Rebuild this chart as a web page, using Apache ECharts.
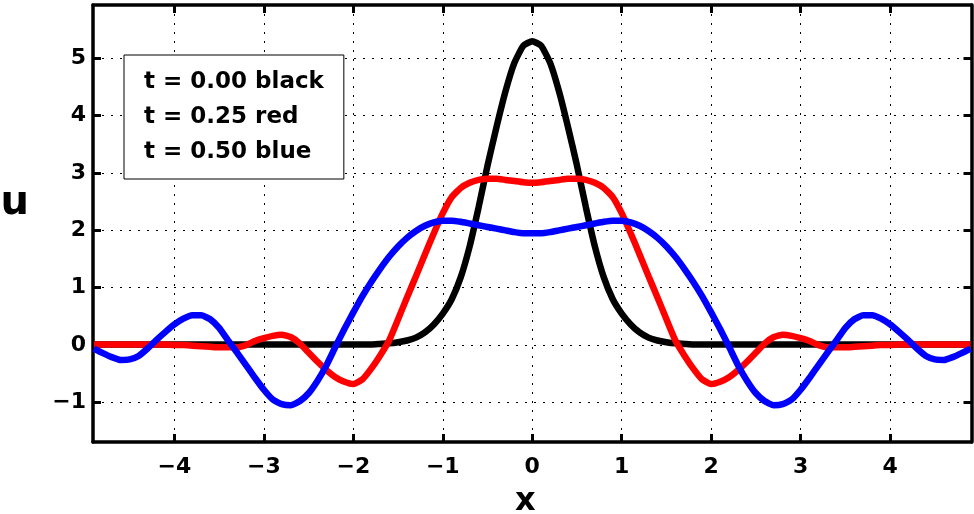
<!DOCTYPE html>
<html lang="en">
<head>
    <meta charset="utf-8" />
    <title>u(x,t)</title>
    <script type="text/javascript" src="https://cdn.jsdelivr.net/npm/echarts@6/dist/echarts.min.js"></script>
</head>
<body style="margin:0;background-color:#fff">
    <div id="container" style="width:974px;height:514px;"></div>
</body>
</html>
<script type="text/javascript">
    var xs = [
        -4.9, -4.8, -4.7, -4.6, -4.5, -4.4, -4.3, -4.2, -4.1, -4.0,
        -3.9, -3.8, -3.7, -3.6, -3.5, -3.4, -3.3, -3.2, -3.1, -3.0,
        -2.9, -2.8, -2.7, -2.6, -2.5, -2.4, -2.3, -2.2, -2.1, -2.0,
        -1.9, -1.8, -1.7, -1.6, -1.5, -1.4, -1.3, -1.2, -1.1, -1.0,
        -0.9, -0.8, -0.7, -0.6, -0.5, -0.4, -0.3, -0.2, -0.1, 0.0,
        0.1, 0.2, 0.3, 0.4, 0.5, 0.6, 0.7, 0.8, 0.9, 1.0,
        1.1, 1.2, 1.3, 1.4, 1.5, 1.6, 1.7, 1.8, 1.9, 2.0,
        2.1, 2.2, 2.3, 2.4, 2.5, 2.6, 2.7, 2.8, 2.9, 3.0,
        3.1, 3.2, 3.3, 3.4, 3.5, 3.6, 3.7, 3.8, 3.9, 4.0,
        4.1, 4.2, 4.3, 4.4, 4.5, 4.6, 4.7, 4.8, 4.9
    ];

    // t = 0.00
    var uBlack = [
        0.01, 0.01, 0.01, 0.01, 0.01, 0.01, 0.01, 0.01, 0.01, 0.01,
        0.01, 0.01, 0.01, 0.01, 0.01, 0.01, 0.01, 0.01, 0.01, 0.01,
        0.01, 0.01, 0.01, 0.01, 0.01, 0.01, 0.01, 0.01, 0.01, 0.01,
        0.01, 0.01, 0.02, 0.03, 0.05, 0.08, 0.13, 0.22, 0.36, 0.55,
        0.8, 1.18, 1.72, 2.4, 3.13, 3.8, 4.42, 4.92, 5.22, 5.3,
        5.22, 4.92, 4.42, 3.8, 3.13, 2.4, 1.72, 1.18, 0.8, 0.55,
        0.36, 0.22, 0.13, 0.08, 0.05, 0.03, 0.02, 0.01, 0.01, 0.01,
        0.01, 0.01, 0.01, 0.01, 0.01, 0.01, 0.01, 0.01, 0.01, 0.01,
        0.01, 0.01, 0.01, 0.01, 0.01, 0.01, 0.01, 0.01, 0.01, 0.01,
        0.01, 0.01, 0.01, 0.01, 0.01, 0.01, 0.01, 0.01, 0.01
    ];

    // t = 0.25
    var uRed = [
        0.01, 0.01, 0.01, 0.01, 0.01, 0.01, 0.01, 0.01, 0.01, 0.0,
        0.0, -0.01, -0.02, -0.03, -0.04, -0.04, -0.04, 0.0, 0.07, 0.12,
        0.16, 0.18, 0.14, 0.03, -0.13, -0.29, -0.44, -0.56, -0.64, -0.68,
        -0.6, -0.41, -0.18, 0.08, 0.45, 0.83, 1.2, 1.58, 1.95, 2.3,
        2.58, 2.74, 2.83, 2.88, 2.9, 2.9, 2.88, 2.86, 2.84, 2.83,
        2.84, 2.86, 2.88, 2.9, 2.9, 2.88, 2.83, 2.74, 2.58, 2.3,
        1.95, 1.58, 1.2, 0.83, 0.45, 0.08, -0.18, -0.41, -0.6, -0.68,
        -0.64, -0.56, -0.44, -0.29, -0.13, 0.03, 0.14, 0.18, 0.16, 0.12,
        0.07, 0.0, -0.04, -0.04, -0.04, -0.03, -0.02, -0.01, 0.0, 0.0,
        0.01, 0.01, 0.01, 0.01, 0.01, 0.01, 0.01, 0.01, 0.01
    ];

    // t = 0.50
    var uBlue = [
        -0.06, -0.14, -0.21, -0.26, -0.25, -0.19, -0.06, 0.09, 0.23, 0.36,
        0.46, 0.52, 0.52, 0.45, 0.3, 0.08, -0.13, -0.35, -0.57, -0.78,
        -0.95, -1.03, -1.05, -0.98, -0.84, -0.62, -0.35, -0.03, 0.28, 0.57,
        0.85, 1.1, 1.33, 1.54, 1.72, 1.87, 1.99, 2.08, 2.14, 2.17,
        2.17, 2.15, 2.12, 2.09, 2.06, 2.03, 2.0, 1.97, 1.95, 1.95,
        1.95, 1.97, 2.0, 2.03, 2.06, 2.09, 2.12, 2.15, 2.17, 2.17,
        2.14, 2.08, 1.99, 1.87, 1.72, 1.54, 1.33, 1.1, 0.85, 0.57,
        0.28, -0.03, -0.35, -0.62, -0.84, -0.98, -1.05, -1.03, -0.95, -0.78,
        -0.57, -0.35, -0.13, 0.08, 0.3, 0.45, 0.52, 0.52, 0.46, 0.36,
        0.23, 0.09, -0.06, -0.19, -0.25, -0.26, -0.21, -0.14, -0.06
    ];

    var seriesNames = ['t = 0.00 black', 't = 0.25 red', 't = 0.50 blue'];
    var xTicks = [-4, -3, -2, -1, 0, 1, 2, 3, 4];
    var yTicks = [-1, 0, 1, 2, 3, 4, 5];

    var dom = document.getElementById("container");
    var myChart = echarts.init(dom);

    var pairs = function (ys) {
        var res = [];
        for (var i = 0; i < xs.length; i++) {
            res.push([xs[i], ys[i]]);
        }
        return res;
    };

    var minus = function (v) {
        return String(v).replace('-', '\u2212');
    };

    var font = 'DejaVu Sans';
    var boxLine = { show: true, onZero: false, lineStyle: { color: '#000', width: 3.5 } };
    var dotted = { show: true, lineStyle: { color: '#000', width: 1, type: [2, 7] } };

    var mkLine = function (name, ys, color) {
        return {
            name: name,
            type: 'line',
            data: pairs(ys),
            showSymbol: false,
            smooth: 0.15,
            clip: true,
            lineStyle: { color: color, width: 6.5 },
            itemStyle: { color: color }
        };
    };

    var option = {
        animation: false,
        backgroundColor: '#fff',
        grid: { left: 93, right: 2.5, top: 5, bottom: 72, containLabel: false, outerBoundsMode: 'none' },
        legend: {
            data: seriesNames,
            orient: 'vertical',
            left: 124,
            top: 55,
            selectedMode: false,
            backgroundColor: '#fff',
            borderColor: '#000',
            borderWidth: 1,
            padding: [16, 20, 15, 4],
            itemWidth: 0,
            itemHeight: 25,
            itemGap: 12,
            itemStyle: { opacity: 0 },
            lineStyle: { opacity: 0 },
            textStyle: { color: '#000', fontFamily: font, fontWeight: 'bold', fontSize: 23 }
        },
        xAxis: [
            {
                type: 'value',
                min: -4.91,
                max: 4.91,
                axisLine: boxLine,
                axisTick: { show: true, inside: true, length: 8, customValues: xTicks, lineStyle: { color: '#000', width: 3 } },
                axisLabel: {
                    customValues: xTicks, formatter: minus, margin: 14,
                    color: '#000', fontFamily: font, fontWeight: 'bold', fontSize: 22
                },
                splitLine: dotted,
                name: 'x',
                nameLocation: 'middle',
                nameGap: 44,
                nameTextStyle: { color: '#000', fontFamily: font, fontWeight: 'bold', fontSize: 32, padding: [0, 14, 0, 0] }
            },
            {
                type: 'value',
                position: 'top',
                min: -4.91,
                max: 4.91,
                axisLine: boxLine,
                axisTick: { show: true, inside: true, length: 8, customValues: xTicks, lineStyle: { color: '#000', width: 3 } },
                axisLabel: { show: false },
                splitLine: { show: false }
            }
        ],
        yAxis: [
            {
                type: 'value',
                min: -1.69,
                max: 5.93,
                axisLine: boxLine,
                axisTick: { show: true, inside: true, length: 8, customValues: yTicks, lineStyle: { color: '#000', width: 3 } },
                axisLabel: {
                    customValues: yTicks, formatter: minus, margin: 7,
                    color: '#000', fontFamily: font, fontWeight: 'bold', fontSize: 22
                },
                splitLine: dotted,
                name: 'u',
                nameLocation: 'middle',
                nameRotate: 0,
                nameGap: 64,
                nameTextStyle: { color: '#000', fontFamily: font, fontWeight: 'bold', fontSize: 40, verticalAlign: 'bottom' }
            },
            {
                type: 'value',
                position: 'right',
                min: -1.69,
                max: 5.93,
                axisLine: boxLine,
                axisTick: { show: true, inside: true, length: 8, customValues: yTicks, lineStyle: { color: '#000', width: 3 } },
                axisLabel: { show: false },
                splitLine: { show: false }
            }
        ],
        series: [
            mkLine(seriesNames[0], uBlack, '#000000'),
            mkLine(seriesNames[1], uRed, '#ff0000'),
            mkLine(seriesNames[2], uBlue, '#0000ff')
        ]
    };
    if (option && typeof option === "object") {
        myChart.setOption(option, true);
    }
</script>
